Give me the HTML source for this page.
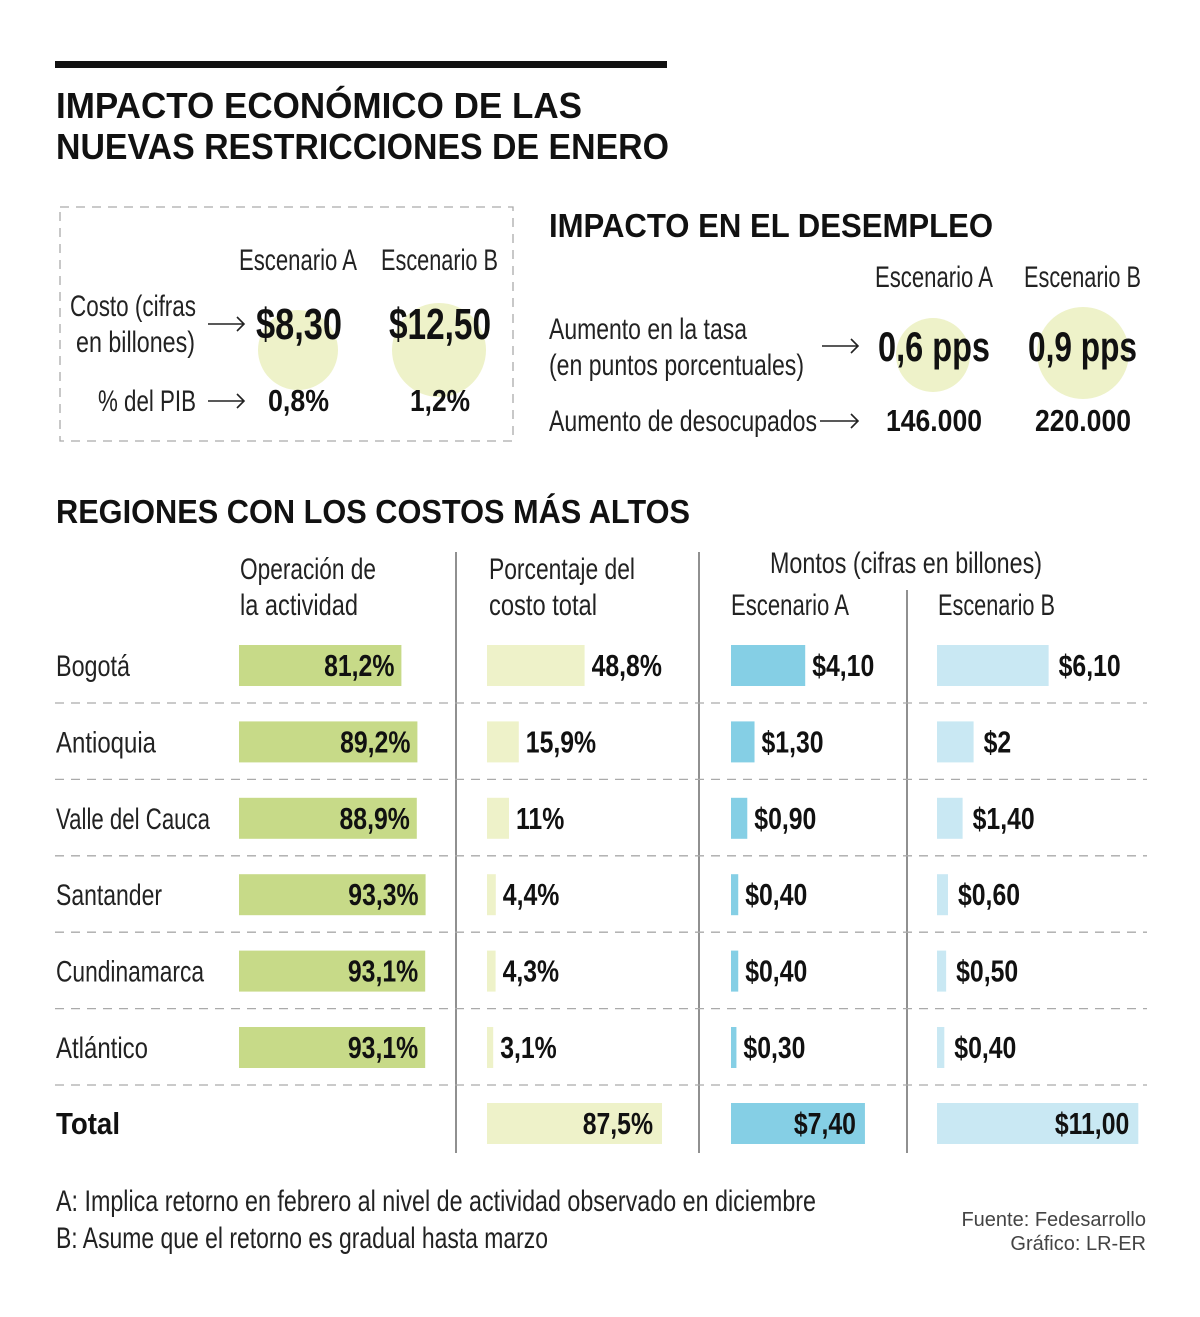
<!DOCTYPE html>
<html><head><meta charset="utf-8"><style>
html,body{margin:0;padding:0;background:#fff;}
svg{display:block;font-family:"Liberation Sans",sans-serif;}
.c{font-size:30px;fill:#222;}
.b{font-weight:bold;fill:#111;}
.ar{fill:none;stroke:#222;stroke-width:1.6;}
</style></head><body>
<svg id="chart" width="1200" height="1317" viewBox="0 0 1200 1317" xmlns="http://www.w3.org/2000/svg">
<rect x="55" y="61" width="612" height="7" fill="#111"/>
<text class="b" x="56" y="118" font-size="36" textLength="526" lengthAdjust="spacingAndGlyphs">IMPACTO ECONÓMICO DE LAS</text>
<text class="b" x="56" y="159" font-size="36" textLength="613" lengthAdjust="spacingAndGlyphs">NUEVAS RESTRICCIONES DE ENERO</text>

<g>
<rect x="60" y="207" width="453" height="234" fill="none" stroke="#aaa" stroke-width="1.3" stroke-dasharray="9,7"/>
<circle cx="298" cy="350" r="40" fill="#eef2c9"/>
<circle cx="439" cy="350" r="47" fill="#eef2c9"/>
<text class="c" x="239" y="270" textLength="118" lengthAdjust="spacingAndGlyphs">Escenario A</text>
<text class="c" x="381" y="270" textLength="117" lengthAdjust="spacingAndGlyphs">Escenario B</text>
<text class="c" x="70" y="316" textLength="126" lengthAdjust="spacingAndGlyphs">Costo (cifras</text>
<text class="c" x="76" y="352" textLength="119" lengthAdjust="spacingAndGlyphs">en billones)</text>
<path class="ar" d="M208 324 H244 M237 317 L244 324 L237 331"/>
<text class="b" x="256" y="339" font-size="44" textLength="86" lengthAdjust="spacingAndGlyphs">$8,30</text>
<text class="b" x="389" y="339" font-size="44" textLength="102" lengthAdjust="spacingAndGlyphs">$12,50</text>
<text class="c" x="98" y="411" textLength="98" lengthAdjust="spacingAndGlyphs">% del PIB</text>
<path class="ar" d="M208 401 H244 M237 394 L244 401 L237 408"/>
<text class="b" x="268" y="411" font-size="31" textLength="61" lengthAdjust="spacingAndGlyphs">0,8%</text>
<text class="b" x="410" y="411" font-size="31" textLength="60" lengthAdjust="spacingAndGlyphs">1,2%</text>
</g>

<g>
<text class="b" x="549" y="237" font-size="33" textLength="444" lengthAdjust="spacingAndGlyphs">IMPACTO EN EL DESEMPLEO</text>
<circle cx="933" cy="355" r="37" fill="#eef2c9"/>
<circle cx="1083" cy="353" r="46" fill="#eef2c9"/>
<text class="c" x="875" y="287" textLength="118" lengthAdjust="spacingAndGlyphs">Escenario A</text>
<text class="c" x="1024" y="287" textLength="117" lengthAdjust="spacingAndGlyphs">Escenario B</text>
<text class="c" x="549" y="339" textLength="198" lengthAdjust="spacingAndGlyphs">Aumento en la tasa</text>
<text class="c" x="549" y="375" textLength="255" lengthAdjust="spacingAndGlyphs">(en puntos porcentuales)</text>
<path class="ar" d="M822 346 H858 M851 339 L858 346 L851 353"/>
<text class="b" x="878" y="361" font-size="42" textLength="112" lengthAdjust="spacingAndGlyphs">0,6 pps</text>
<text class="b" x="1028" y="361" font-size="42" textLength="109" lengthAdjust="spacingAndGlyphs">0,9 pps</text>
<text class="c" x="549" y="431" textLength="268" lengthAdjust="spacingAndGlyphs">Aumento de desocupados</text>
<path class="ar" d="M820 421 H858 M851 414 L858 421 L851 428"/>
<text class="b" x="886" y="431" font-size="31" textLength="96" lengthAdjust="spacingAndGlyphs">146.000</text>
<text class="b" x="1035" y="431" font-size="31" textLength="96" lengthAdjust="spacingAndGlyphs">220.000</text>
</g>

<text class="b" x="56" y="523" font-size="33" textLength="634" lengthAdjust="spacingAndGlyphs">REGIONES CON LOS COSTOS MÁS ALTOS</text>
<g>
<text class="c" x="240" y="579" textLength="136" lengthAdjust="spacingAndGlyphs">Operación de</text>
<text class="c" x="240" y="615" textLength="118" lengthAdjust="spacingAndGlyphs">la actividad</text>
<text class="c" x="489" y="579" textLength="146" lengthAdjust="spacingAndGlyphs">Porcentaje del</text>
<text class="c" x="489" y="615" textLength="108" lengthAdjust="spacingAndGlyphs">costo total</text>
<text class="c" x="770" y="573" textLength="272" lengthAdjust="spacingAndGlyphs">Montos (cifras en billones)</text>
<text class="c" x="731" y="615" textLength="118" lengthAdjust="spacingAndGlyphs">Escenario A</text>
<text class="c" x="938" y="615" textLength="117" lengthAdjust="spacingAndGlyphs">Escenario B</text>
</g>
<g id="table"></g>

<g>
<text class="c" x="56" y="1211" textLength="760" lengthAdjust="spacingAndGlyphs">A: Implica retorno en febrero al nivel de actividad observado en diciembre</text>
<text class="c" x="56" y="1248" textLength="492" lengthAdjust="spacingAndGlyphs">B: Asume que el retorno es gradual hasta marzo</text>
<text x="1146" y="1226" font-size="20" fill="#444" text-anchor="end">Fuente: Fedesarrollo</text>
<text x="1146" y="1250" font-size="20" fill="#444" text-anchor="end">Gráfico: LR-ER</text>
</g>
</svg>
<script>
const regions = ["Bogotá","Antioquia","Valle del Cauca","Santander","Cundinamarca","Atlántico"];
const regionWidths = [74,100,154,106,148,92];
const operation = [81.2,89.2,88.9,93.3,93.1,93.1];
const share = [48.8,15.9,11,4.4,4.3,3.1];
const amountA = [4.10,1.30,0.90,0.40,0.40,0.30];
const amountB = [6.10,2,1.40,0.60,0.50,0.40];
const totalShare = 87.5;
const totalA = 7.40;
const totalB = 11.00;

const NS="http://www.w3.org/2000/svg";
const g=document.getElementById('table');
const rowY=i=>665+i*76.4;
const pctX=v=>v*2.0;
const amtA=v=>v*18.1;
const amtB=v=>v*18.3;
const fmtP=v=>String(v).replace('.',',')+'%';
const fmt2=v=>'$'+(Number.isInteger(v)&&v<10?String(v):v.toFixed(2).replace('.',','));
function mk(tag,attrs){const e=document.createElementNS(NS,tag);for(const k in attrs)e.setAttribute(k,attrs[k]);g.appendChild(e);return e;}
function bar(x,y,w,fill,name){const r=mk('rect',{x:x,y:y-20,width:Math.max(w,3),height:41,fill:fill});

return r;}
function lab(x,y,s,anchor,name){const sx=0.8;const t=mk('text',{x:x/sx,y:y+11,'font-size':31,'font-weight':'bold',fill:'#111','text-anchor':anchor,transform:'scale('+sx+',1)'});t.textContent=s;

return t;}

[[456,552],[699,552],[907,590]].forEach(p=>{const l=mk('line',{x1:p[0],y1:p[1],x2:p[0],y2:1153,stroke:'#555','stroke-width':1.3});

});

regions.forEach((r,i)=>{
  const y=rowY(i);
  const t=mk('text',{x:56,y:y+11,class:'c',textLength:regionWidths[i],lengthAdjust:'spacingAndGlyphs'});t.textContent=r;
  
  
  const w1=pctX(operation[i]);bar(239,y,w1,'#c7da88','operation-bar');lab(239+w1-7,y,fmtP(operation[i]),'end','operation-value');
  const w2=pctX(share[i]);bar(487,y,w2,'#eef2c9','share-bar');lab(487+w2+7,y,fmtP(share[i]),'start','share-value');
  const w3=amtA(amountA[i]);bar(731,y,w3,'#85cfe5','amount-a-bar');lab(731+Math.max(w3,3)+7,y,fmt2(amountA[i]),'start','amount-a-value');
  const w4=amtB(amountB[i]);bar(937,y,w4,'#c9e8f3','amount-b-bar');lab(937+Math.max(w4,3)+10,y,fmt2(amountB[i]),'start','amount-b-value');
  const d=mk('line',{x1:55,y1:y+38,x2:1147,y2:y+38,stroke:'#aaa','stroke-width':1.3,'stroke-dasharray':'9,7'});
  
  
});
const ty=rowY(6)-0.4;
const tt=mk('text',{x:56,y:ty+11,class:'b','font-size':31,textLength:64,lengthAdjust:'spacingAndGlyphs'});tt.textContent='Total';


const ws=pctX(totalShare);bar(487,ty,ws,'#eef2c9','total-share-bar');lab(487+ws-9,ty,fmtP(totalShare),'end','total-share-value');
const wa=amtA(totalA);bar(731,ty,wa,'#85cfe5','total-a-bar');lab(731+wa-9,ty,fmt2(totalA),'end','total-a-value');
const wb=amtB(totalB);bar(937,ty,wb,'#c9e8f3','total-b-bar');lab(937+wb-9,ty,fmt2(totalB),'end','total-b-value');
</script>
</body></html>
